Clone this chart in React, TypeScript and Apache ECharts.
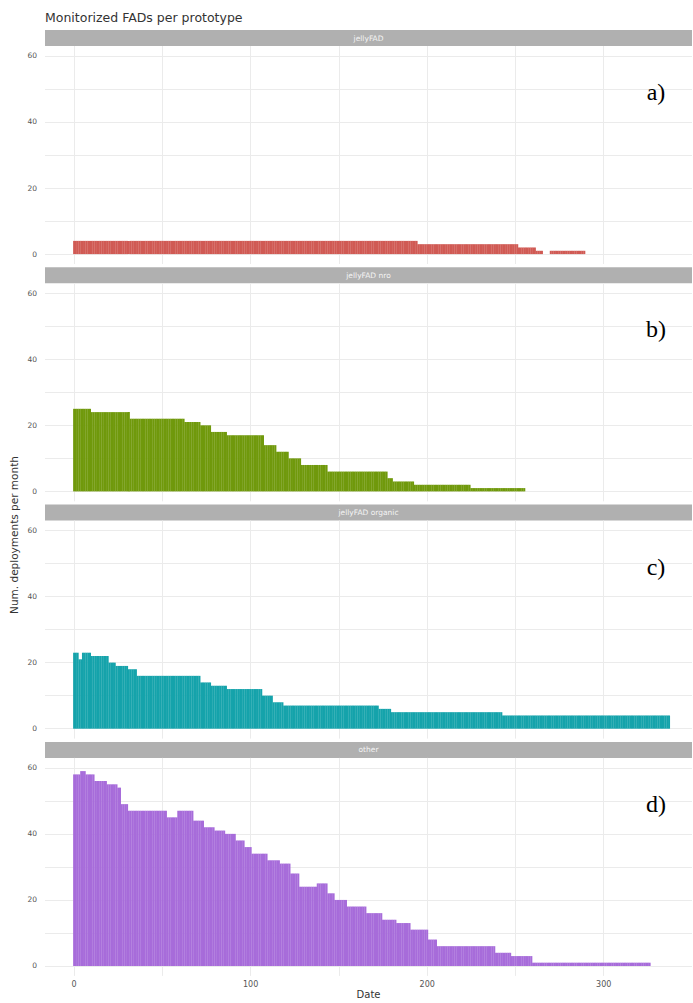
import React, { useEffect, useRef } from "react";
import * as echarts from "echarts";

const TITLE = "Monitorized FADs per prototype";
const PANEL_NAMES = ["jellyFAD", "jellyFAD nro", "jellyFAD organic", "other"];
const PANEL_TAGS = ["a)", "b)", "c)", "d)"];
const PANEL_COLORS = ["#D05A54", "#70990C", "#15A3AB", "#A76CDA"];
const X_TICKS = [0, 100, 200, 300];
const X_GRID = [0, 50, 100, 150, 200, 250, 300];
const Y_TICKS = [0, 20, 40, 60];
const Y_GRID = [0, 10, 20, 30, 40, 50, 60];
const X_LABEL = "Date";
const Y_LABEL = "Num. deployments per month";

// runs: [first day, end day (exclusive), count]
const RUNS_A = [
  [0, 195, 4],
  [195, 252, 3],
  [252, 262, 2],
  [262, 266, 1],
  [270, 290, 1],
];
const RUNS_B = [
  [0, 10, 25],
  [10, 32, 24],
  [32, 63, 22],
  [63, 72, 21],
  [72, 78, 20],
  [78, 87, 18],
  [87, 108, 17],
  [108, 115, 14],
  [115, 122, 12],
  [122, 129, 10],
  [129, 144, 8],
  [144, 178, 6],
  [178, 181, 4],
  [181, 193, 3],
  [193, 225, 2],
  [225, 256, 1],
];
const RUNS_C = [
  [0, 3, 23],
  [3, 5, 21],
  [5, 10, 23],
  [10, 20, 22],
  [20, 24, 20],
  [24, 31, 19],
  [31, 36, 18],
  [36, 72, 16],
  [72, 78, 14],
  [78, 87, 13],
  [87, 107, 12],
  [107, 113, 10],
  [113, 119, 8],
  [119, 173, 7],
  [173, 180, 6],
  [180, 243, 5],
  [243, 338, 4],
];
const RUNS_D = [
  [0, 4, 58],
  [4, 7, 59],
  [7, 12, 58],
  [12, 19, 56],
  [19, 25, 55],
  [25, 27, 54],
  [27, 31, 49],
  [31, 53, 47],
  [53, 59, 45],
  [59, 68, 47],
  [68, 74, 44],
  [74, 80, 42],
  [80, 86, 41],
  [86, 92, 40],
  [92, 97, 38],
  [97, 101, 36],
  [101, 110, 34],
  [110, 117, 32],
  [117, 123, 31],
  [123, 128, 28],
  [128, 138, 24],
  [138, 144, 25],
  [144, 148, 22],
  [148, 155, 20],
  [155, 166, 18],
  [166, 175, 16],
  [175, 183, 14],
  [183, 191, 13],
  [191, 201, 11],
  [201, 206, 8],
  [206, 239, 6],
  [239, 248, 4],
  [248, 260, 3],
  [260, 327, 1],
];
const PANEL_RUNS = [RUNS_A, RUNS_B, RUNS_C, RUNS_D];

function expand(runs: number[][]) {
  const out: number[][] = [];
  for (const [s, e, v] of runs) {
    for (let d = s; d < e; d++) out.push([d, v]);
  }
  return out;
}

const W = 693;
const H = 1003;
const LEFT = 45;
const PW = 647;
const TOPS = [46, 283.3, 520.6, 757.9];
const PH = 218;
const STRIP_H = 16;

export default function App() {
  const ref = useRef<HTMLDivElement>(null);
  useEffect(() => {
    document.body.style.margin = "0";
    const chart = echarts.init(ref.current!, null, { renderer: "svg" });
    const grids = TOPS.map((t) => ({ left: LEFT, top: t, width: PW, height: PH }));
    const xAxes = TOPS.map((_, i) => ({
      type: "value",
      gridIndex: i,
      min: -16.5,
      max: 350,
      axisLine: { show: false },
      axisTick: { show: false, customValues: X_GRID },
      axisLabel: {
        show: i === 3,
        customValues: X_TICKS,
        fontSize: 8,
        color: "#555",
        margin: 5,
        fontFamily: "DejaVu Sans",
      },
      splitLine: { show: true, lineStyle: { color: "#ebebeb", width: 1 } },
    }));
    const yAxes = TOPS.map((_, i) => ({
      type: "value",
      gridIndex: i,
      min: -3,
      max: 63,
      axisLine: { show: false },
      axisTick: { show: false, customValues: Y_GRID },
      axisLabel: {
        customValues: Y_TICKS,
        fontSize: 7.5,
        color: "#555",
        margin: 8,
        fontFamily: "DejaVu Sans",
      },
      splitLine: { show: true, lineStyle: { color: "#ebebeb", width: 1 } },
    }));
    const series = PANEL_RUNS.map((runs, i) => ({
      type: "bar",
      xAxisIndex: i,
      yAxisIndex: i,
      data: expand(runs),
      barWidth: 2,
      itemStyle: { color: PANEL_COLORS[i] },
    }));
    const graphic: any[] = [
      {
        type: "text",
        left: LEFT,
        top: 11,
        style: { text: TITLE, fontSize: 12.5, fill: "#333", fontFamily: "DejaVu Sans" },
      },
      {
        type: "text",
        x: LEFT + PW / 2,
        y: 994,
        style: {
          text: X_LABEL,
          fontSize: 10,
          fill: "#333",
          align: "center",
          verticalAlign: "middle",
          fontFamily: "DejaVu Sans",
        },
      },
      {
        type: "text",
        x: 14,
        y: 535,
        rotation: Math.PI / 2,
        style: {
          text: Y_LABEL,
          fontSize: 10.5,
          fill: "#333",
          align: "center",
          verticalAlign: "middle",
          fontFamily: "DejaVu Sans",
        },
      },
    ];
    TOPS.forEach((t, i) => {
      graphic.push({
        type: "rect",
        shape: { x: LEFT, y: t - STRIP_H, width: PW, height: STRIP_H },
        style: { fill: "#b0b0b0" },
      });
      graphic.push({
        type: "text",
        x: LEFT + PW / 2,
        y: t - STRIP_H / 2,
        style: {
          text: PANEL_NAMES[i],
          fontSize: 7.5,
          fill: "#f4f4f4",
          align: "center",
          verticalAlign: "middle",
          fontFamily: "DejaVu Sans",
        },
      });
      graphic.push({
        type: "text",
        x: 656,
        y: t + 46,
        z: 10,
        style: {
          text: PANEL_TAGS[i],
          fontSize: 24,
          fill: "#000",
          align: "center",
          verticalAlign: "middle",
          fontFamily: "Liberation Serif",
        },
      });
    });
    chart.setOption({
      animation: false,
      backgroundColor: "#fff",
      grid: grids,
      xAxis: xAxes,
      yAxis: yAxes,
      series,
      graphic,
    });
    return () => chart.dispose();
  }, []);
  return <div ref={ref} style={{ width: W, height: H }} />;
}
